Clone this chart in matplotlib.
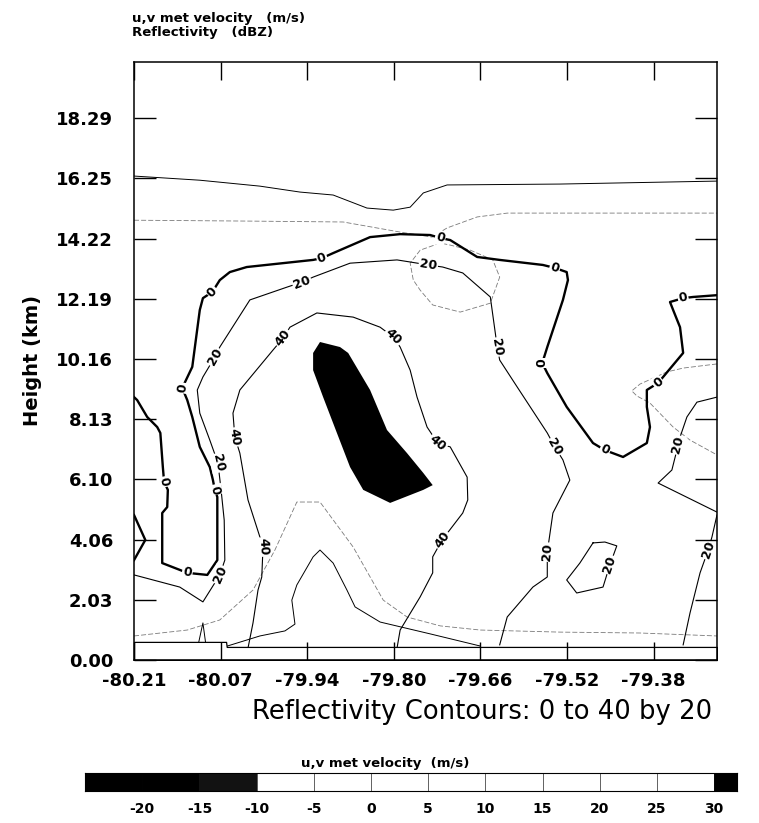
import math
import matplotlib
matplotlib.use('Agg')
import matplotlib.pyplot as plt
import numpy as np

plt.rcParams['font.family'] = ['DejaVu Sans']

# axis extents / tick spacing of the cross section
lon_start, lon_end, lon_step = -80.212, -79.2809, 0.1383
km_top, km_step = 20.18, 2.0318

# reflectivity isolines (lon, height km), with the vertex index of each label
dbz0_a_lon = [-79.281, -79.319, -79.335, -79.356, -79.351, -79.340, -79.335, -79.367, -79.375, -79.393,
              -79.393, -79.388, -79.393, -79.431, -79.460, -79.479, -79.521, -79.552, -79.560, -79.552,
              -79.527, -79.519, -79.521, -79.540, -79.559, -79.628, -79.664, -79.707, -79.723, -79.739,
              -79.787, -79.835, -79.894, -79.912, -79.926, -80.032, -80.059, -80.075, -80.087, -80.102,
              -80.107, -80.119, -80.135, -80.127, -80.119, -80.107, -80.091, -80.086, -80.083, -80.079,
              -80.079, -80.095, -80.127, -80.139, -80.167, -80.167, -80.159, -80.158, -80.164, -80.166,
              -80.170, -80.175, -80.191, -80.207, -80.212]
dbz0_a_km = [12.31, 12.25, 12.21, 12.08, 11.81, 11.23, 10.36, 9.55, 9.35, 9.11,
             8.54, 7.86, 7.32, 6.85, 7.08, 7.32, 8.54, 9.68, 10.02, 10.56,
             12.15, 12.82, 13.09, 13.23, 13.33, 13.50, 13.60, 14.17, 14.24, 14.34,
             14.37, 14.27, 13.73, 13.56, 13.50, 13.26, 13.09, 12.82, 12.42, 12.21,
             11.81, 9.89, 9.18, 8.77, 8.20, 7.19, 6.51, 6.07, 5.74, 5.50,
             3.37, 2.87, 2.94, 3.04, 3.27, 4.96, 5.16, 5.74, 6.01, 6.51,
             7.66, 7.86, 8.20, 8.77, 8.87]
dbz0_a_lab = [2, 8, 14, 18, 23, 28, 33, 38, 42, 48, 52, 58]

dbz0_b_lon = [-80.212, -80.194, -80.212]
dbz0_b_km = [4.89, 4.05, 3.37]

dbz20_c_lon = [-80.212, -80.139, -80.102, -80.083, -80.075, -80.067, -80.068, -80.073, -80.078, -80.091,
               -80.107, -80.111, -80.102, -80.083, -80.075, -80.027, -79.968, -79.944, -79.926, -79.867,
               -79.792, -79.771, -79.742, -79.719, -79.687, -79.643, -79.635, -79.632, -79.628, -79.600,
               -79.552, -79.540, -79.527, -79.516, -79.543, -79.552, -79.552, -79.575, -79.616, -79.628]
dbz20_c_km = [2.87, 2.46, 1.96, 2.60, 2.87, 3.37, 4.72, 5.74, 6.65, 7.42,
              8.33, 9.11, 9.55, 10.22, 10.56, 12.15, 12.58, 12.75, 12.92, 13.39,
              13.50, 13.43, 13.33, 13.26, 13.06, 12.25, 11.03, 10.56, 10.12, 9.21,
              7.66, 7.19, 6.75, 6.07, 4.96, 3.64, 2.80, 2.46, 1.45, 0.51]
dbz20_c_lab = [4, 8, 13, 17, 22, 27, 31, 35]

dbz20_d_lon = [-79.281, -79.313, -79.329, -79.340, -79.343, -79.353, -79.375, -79.281]
dbz20_d_km = [8.87, 8.70, 8.20, 7.52, 7.25, 6.41, 5.97, 4.99]
dbz20_d_lab = [4]

dbz20_e_lon = [-79.281, -79.289, -79.295, -79.308, -79.324, -79.335]
dbz20_e_km = [4.89, 4.15, 3.71, 2.94, 1.59, 0.51]
dbz20_e_lab = [2]

dbz20_f_lon = [-79.479, -79.460, -79.441, -79.452, -79.463, -79.505, -79.521, -79.500, -79.479]
dbz20_f_km = [3.95, 3.98, 3.85, 3.21, 2.46, 2.26, 2.70, 3.27, 3.95]
dbz20_f_lab = [3]

dbz40_g_lon = [-80.030, -80.022, -80.014, -80.008, -80.006, -80.011, -80.030, -80.043, -80.051, -80.054,
               -80.043, -79.990, -79.974, -79.963, -79.920, -79.862, -79.819, -79.798, -79.787, -79.771,
               -79.760, -79.744, -79.727, -79.707, -79.680, -79.679, -79.687, -79.720, -79.735, -79.735,
               -79.755, -79.787, -79.792]
dbz40_g_km = [0.40, 1.25, 2.36, 2.80, 3.81, 4.15, 5.40, 6.98, 7.52, 8.33,
              9.11, 10.46, 10.86, 11.23, 11.71, 11.57, 11.23, 10.90, 10.56, 9.78,
              8.87, 7.86, 7.32, 7.19, 6.17, 5.40, 4.96, 4.05, 3.48, 2.94,
              2.13, 1.01, 0.40]
dbz40_g_lab = [4, 8, 12, 17, 22, 27]

# velocity isolines: 5 m/s (thin black) and 10 m/s (grey)
vel5_a_lon = [-80.212, -80.107, -80.011, -79.947, -79.894, -79.840, -79.798, -79.771, -79.750, -79.712, -79.532, -79.281]
vel5_a_km = [16.33, 16.19, 15.99, 15.79, 15.69, 15.25, 15.18, 15.28, 15.76, 16.03, 16.06, 16.16]
vel5_b_lon = [-80.063, -80.011, -79.971, -79.955, -79.960, -79.952, -79.926, -79.915, -79.894, -79.872,
              -79.859, -79.819, -79.739, -79.659]
vel5_b_km = [0.47, 0.81, 0.98, 1.21, 2.02, 2.53, 3.48, 3.71, 3.27, 2.36, 1.79, 1.28, 0.88, 0.47]
vel5_c_lon = [-80.110, -80.102, -80.097]
vel5_c_km = [0.47, 1.25, 0.47]

vel10_a_lon = [-80.212, -80.027, -79.878, -79.787, -79.736, -79.712, -79.664, -79.616, -79.281]
vel10_a_km = [14.84, 14.81, 14.78, 14.44, 14.27, 14.58, 14.95, 15.08, 15.08]
vel10_b_lon = [-79.723, -79.755, -79.771, -79.766, -79.755, -79.735, -79.691, -79.643, -79.628, -79.639,
               -79.675, -79.707, -79.723]
vel10_b_km = [14.07, 13.83, 13.39, 12.82, 12.48, 11.98, 11.74, 12.04, 12.92, 13.50, 13.83, 14.00, 14.07]
vel10_c_lon = [-79.281, -79.335, -79.361, -79.404, -79.417, -79.409, -79.388, -79.351, -79.324, -79.281]
vel10_c_km = [9.99, 9.85, 9.72, 9.31, 9.08, 8.91, 8.67, 7.86, 7.42, 6.92]
vel10_d_lon = [-80.212, -80.127, -80.075, -80.022, -79.987, -79.952, -79.915, -79.862, -79.814, -79.776,
               -79.723, -79.659, -79.532, -79.404, -79.281]
vel10_d_km = [0.81, 1.01, 1.35, 2.36, 3.71, 5.33, 5.33, 3.81, 2.02, 1.45, 1.15, 1.01, 0.94, 0.91, 0.81]

# region where the velocity exceeds 30 m/s
vel30_lon = [-79.915, -79.883, -79.870, -79.835, -79.808, -79.776, -79.750, -79.735, -79.750, -79.803,
             -79.846, -79.867, -79.888, -79.910, -79.926, -79.926]
vel30_km = [10.73, 10.56, 10.36, 9.11, 7.76, 6.98, 6.31, 5.90, 5.74, 5.30, 5.74, 6.51, 7.66, 8.87, 9.78, 10.36]

# ground / no-data strip at the bottom
terrain_lon = [-80.212, -80.065, -80.064, -79.281]
terrain_km = [0.61, 0.61, 0.44, 0.44]

# velocity colour scale
vel_bounds = [-25, -20, -15, -10, -5, 0, 5, 10, 15, 20, 25, 30, 35]
vel_colors = ['black', 'black', '#121212', 'white', 'white', 'white', 'white',
              'white', 'white', 'white', 'white', 'black']
vel_ticks = [-20, -15, -10, -5, 0, 5, 10, 15, 20, 25, 30]

fig = plt.figure(figsize=(7.59, 8.23), dpi=100)
ax = fig.add_axes([0.1766, 0.1981, 0.7681, 0.7266])
ax.set_xlim(lon_start, lon_end)
ax.set_ylim(0, km_top)

ax.fill(vel30_lon, vel30_km, color=vel_colors[-1], lw=0, zorder=1)

for lo, hk in [(vel5_a_lon, vel5_a_km), (vel5_b_lon, vel5_b_km), (vel5_c_lon, vel5_c_km)]:
    ax.plot(lo, hk, color='black', lw=0.7, zorder=2)
for lo, hk in [(vel10_a_lon, vel10_a_km), (vel10_b_lon, vel10_b_km),
               (vel10_c_lon, vel10_c_km), (vel10_d_lon, vel10_d_km)]:
    ax.plot(lo, hk, color='#7a7a7a', lw=0.6, ls=(0, (6, 2.5)), zorder=2)

dbz_lines = [
    (0, dbz0_a_lon, dbz0_a_km, dbz0_a_lab),
    (0, dbz0_b_lon, dbz0_b_km, []),
    (20, dbz20_c_lon, dbz20_c_km, dbz20_c_lab),
    (20, dbz20_d_lon, dbz20_d_km, dbz20_d_lab),
    (20, dbz20_e_lon, dbz20_e_km, dbz20_e_lab),
    (20, dbz20_f_lon, dbz20_f_km, dbz20_f_lab),
    (40, dbz40_g_lon, dbz40_g_km, dbz40_g_lab),
]


def label_angle(lo, hk, i):
    p0 = ax.transData.transform((lo[max(i - 1, 0)], hk[max(i - 1, 0)]))
    p1 = ax.transData.transform((lo[min(i + 1, len(lo) - 1)], hk[min(i + 1, len(lo) - 1)]))
    ang = math.degrees(math.atan2(p1[1] - p0[1], p1[0] - p0[0]))
    if ang > 90:
        ang -= 180
    elif ang < -90:
        ang += 180
    return ang


for level, lo, hk, labs in dbz_lines:
    ax.plot(lo, hk, color='black', lw=1.7 if level == 0 else 0.8, zorder=3)
    for i in labs:
        ax.text(lo[i], hk[i], str(level), rotation=label_angle(lo, hk, i),
                rotation_mode='anchor', ha='center', va='center',
                fontsize=9, fontweight='bold', zorder=4,
                bbox=dict(boxstyle='square,pad=0.08', fc='white', ec='none'))

ax.fill_between(terrain_lon, 0, terrain_km, facecolor='white', edgecolor='black', lw=0.9, zorder=5)

xt = lon_start + lon_step * np.arange(7)
yt = km_step * np.arange(10)
ax.set_xticks(xt)
ax.set_xticklabels(['%.2f' % v for v in xt])
ax.set_yticks(yt)
ax.set_yticklabels(['%.2f' % v for v in yt])
ax.tick_params(direction='in', top=True, right=True, width=1.0, labelsize=13)
ax.tick_params(axis='y', length=16, pad=15)
ax.tick_params(axis='x', length=13, pad=9)
for lab in ax.get_xticklabels() + ax.get_yticklabels():
    lab.set_fontweight('bold')
ax.xaxis.set_zorder(10)
ax.yaxis.set_zorder(10)
for sp in ax.spines.values():
    sp.set_linewidth(1.1)
    sp.set_zorder(10)
ax.set_ylabel('Height (km)', fontsize=14, fontweight='bold', labelpad=10)

fig.text(0.174, 0.9733, 'u,v met velocity   (m/s)', fontsize=9.5, fontweight='bold', va='baseline')
fig.text(0.174, 0.9563, 'Reflectivity   (dBZ)', fontsize=9.5, fontweight='bold', va='baseline')
fig.text(0.938, 1 - 719 / 823, 'Reflectivity Contours: 0 to 40 by 20', fontsize=18.6,
         ha='right', va='baseline')

# colour bar for the velocity field
cax = fig.add_axes([0.1120, 0.0389, 0.8590, 0.0219])
widths = np.diff(vel_bounds)
edges = ['#555555' if c == 'white' else c for c in vel_colors]
cax.bar(vel_bounds[:-1], 1, width=widths, align='edge', color=vel_colors,
        edgecolor=edges, lw=0.6)
cax.set_xlim(-25, 32)
cax.set_ylim(0, 1)
cax.set_yticks([])
cax.set_xticks(vel_ticks)
cax.set_xticklabels([str(v) for v in vel_ticks], fontsize=10, fontweight='bold')
cax.tick_params(axis='x', length=0, pad=8)
for sp in cax.spines.values():
    sp.set_linewidth(0.8)
fig.text(0.507, 1 - 767 / 823, 'u,v met velocity  (m/s)', fontsize=9.5, fontweight='bold',
         ha='center', va='baseline')

fig.savefig('out.png', dpi=100)
